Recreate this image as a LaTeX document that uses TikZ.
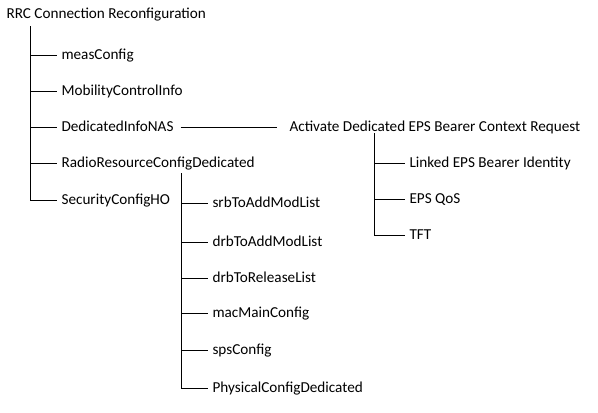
\documentclass[tikz,border=0pt]{standalone}
\usepackage{fontspec}
\setmainfont{Carlito}
\begin{document}
\begin{tikzpicture}[x=0.75pt,y=-0.75pt,line width=0.75pt,
  lbl/.style={anchor=west, inner ysep=0pt, inner xsep=3.4pt, outer sep=0pt,
    text height=8.2pt, text depth=1.3pt, font=\fontsize{11.4}{13.5}\selectfont}]
\useasboundingbox[fill=white] (0,0) rectangle (598,412);
% root
\node[lbl] (root) at (2,13.5) {RRC Connection Reconfiguration};
\coordinate (t0) at (30,26);
\node[lbl] (meas) at (57,55) {measConfig};
\node[lbl] (mob)  at (57,91) {MobilityControlInfo};
\node[lbl] (nas)  at (57,127) {DedicatedInfoNAS};
\node[lbl] (rrc)  at (57,163) {RadioResourceConfigDedicated};
\node[lbl] (sec)  at (57,200) {SecurityConfigHO};
\draw (t0) |- (sec.west);
\foreach \n in {meas,mob,nas,rrc} \draw (t0 |- \n.west) -- (\n.west);
% NAS branch
\node[lbl] (act) at (285,127) {Activate Dedicated EPS Bearer Context Request};
\draw[shorten <=2pt, shorten >=6pt] (nas.east) -- (act.west);
\coordinate (a0) at (374,133);
\node[lbl] (lnk) at (405,163) {Linked EPS Bearer Identity};
\node[lbl] (qos) at (405,199) {EPS QoS};
\node[lbl] (tft) at (405,235) {TFT};
\draw (a0) |- (tft.west);
\foreach \n in {lnk,qos} \draw (a0 |- \n.west) -- (\n.west);
% radio branch
\coordinate (r0) at (181,173);
\node[lbl] (srb)  at (208,203) {srbToAddModList};
\node[lbl] (drba) at (208,242) {drbToAddModList};
\node[lbl] (drbr) at (208,278) {drbToReleaseList};
\node[lbl] (mac)  at (208,313) {macMainConfig};
\node[lbl] (sps)  at (208,350) {spsConfig};
\node[lbl] (phy)  at (208,388) {PhysicalConfigDedicated};
\draw (r0) |- (phy.west);
\foreach \n in {srb,drba,drbr,mac,sps} \draw (r0 |- \n.west) -- (\n.west);
\end{tikzpicture}
\end{document}
